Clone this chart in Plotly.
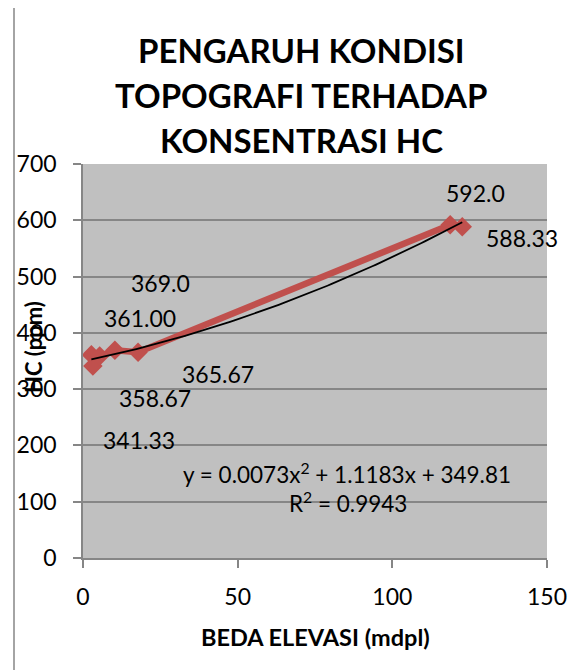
import plotly.graph_objects as go
import numpy as np

# ---- data ----
beda_elevasi = [2.7, 3.2, 5.4, 10.3, 17.8, 118.7, 122.6]
hc_ppm = [361.00, 341.33, 358.67, 369.0, 365.67, 592.0, 588.33]
hc_labels = ["361.00", "341.33", "358.67", "369.0", "365.67", "592.0", "588.33"]
trend_coef = [0.0073, 1.1183, 349.81]   # y = a x^2 + b x + c
trend_text = ["y = 0.0073x<sup>2</sup> + 1.1183x + 349.81", "R<sup>2</sup> = 0.9943"]
x_ticks = [0, 50, 100, 150]
y_ticks = [0, 100, 200, 300, 400, 500, 600, 700]
title_lines = ["PENGARUH KONDISI", "TOPOGRAFI TERHADAP", "KONSENTRASI HC"]
x_title = "BEDA ELEVASI (mdpl)"
y_title = "HC (ppm)"

# ---- layout helpers (label offsets in px) ----
label_shift = [(49, 37), (46, -74), (55, -42), (46, 67), (80, -22), (25, 32), (60, -11)]

FONT = "Lato"
OFF = 8                      # page body margin
W, H = 587 - OFF, 670 - OFF
ML, MT = 83 - OFF, 164 - OFF
MR = W - (547 - OFF)
MB = H - (558 - OFF)
PW = W - ML - MR
PH = H - MT - MB


def px(xp):  # reference screen x -> paper
    return (xp - OFF - ML) / PW


def py(yp):  # reference screen y -> paper
    return (H - MB - (yp - OFF)) / PH


fig = go.Figure()

fig.add_trace(go.Scatter(
    x=beda_elevasi, y=hc_ppm, mode="lines+markers",
    line=dict(color="#C0504D", width=6.5),
    marker=dict(symbol="diamond", size=15, color="#C0504D"),
    hoverinfo="skip", showlegend=False))

tx = np.linspace(min(beda_elevasi), max(beda_elevasi), 100)
ty = trend_coef[0] * tx**2 + trend_coef[1] * tx + trend_coef[2]
fig.add_trace(go.Scatter(
    x=tx, y=ty, mode="lines", line=dict(color="black", width=1.8),
    hoverinfo="skip", showlegend=False))

annotations = []
for xv, yv, t, (dx, dy) in zip(beda_elevasi, hc_ppm, hc_labels, label_shift):
    annotations.append(dict(x=xv, y=yv, text=t, showarrow=False,
                            xshift=dx, yshift=dy, xanchor="center", yanchor="middle",
                            font=dict(family=FONT, size=23, color="black")))

# trendline equation
for t, (xp, yp) in zip(trend_text, [(347, 473), (348, 502)]):
    annotations.append(dict(x=px(xp), y=py(yp), xref="paper", yref="paper",
                            xanchor="center", yanchor="middle",
                            text=t, showarrow=False,
                            font=dict(family=FONT, size=22.5, color="black")))

# title lines
for i, line in enumerate(title_lines):
    annotations.append(dict(x=px(301), y=py(50 + 45 * i),
                            xref="paper", yref="paper", text="<b>%s</b>" % line,
                            xanchor="center", yanchor="middle", showarrow=False,
                            font=dict(family=FONT, size=33, color="black")))

# axis titles
annotations.append(dict(x=px(315), y=py(637), xref="paper", yref="paper",
                        text="<b>%s</b>" % x_title, showarrow=False,
                        xanchor="center", yanchor="middle",
                        font=dict(family=FONT, size=23.5, color="black")))
annotations.append(dict(x=px(33), y=py(347), xref="paper", yref="paper",
                        text="<b>%s</b>" % y_title, showarrow=False, textangle=-90,
                        xanchor="center", yanchor="middle",
                        font=dict(family=FONT, size=22, color="black")))

fig.update_layout(
    width=W, height=H,
    margin=dict(l=ML, r=MR, t=MT, b=MB, autoexpand=False),
    paper_bgcolor="white",
    plot_bgcolor="#C0C0C0",
    font=dict(family=FONT, size=23, color="black"),
    annotations=annotations,
    shapes=[dict(type="line", xref="paper", yref="paper",
                 x0=px(14), x1=px(14), y0=-1, y1=2,
                 line=dict(color="#868686", width=1.5))],
    xaxis=dict(range=[0, 150], tickvals=x_ticks, showgrid=False, zeroline=False,
               automargin=False,
               showline=True, linecolor="#868686", linewidth=1.5,
               ticks="outside", ticklen=8, tickcolor="#868686", tickwidth=1.5,
               ticklabelstandoff=10,
               tickfont=dict(family=FONT, size=23)),
    yaxis=dict(range=[0, 700], tickvals=y_ticks, showgrid=True, gridcolor="#868686", gridwidth=1.5,
               automargin=False,
               zeroline=False, showline=True, linecolor="#868686", linewidth=1.5,
               ticks="outside", ticklen=8, tickcolor="#868686", tickwidth=1.5,
               ticklabelstandoff=12,
               tickfont=dict(family=FONT, size=23)),
)

fig.write_html("out.html")
